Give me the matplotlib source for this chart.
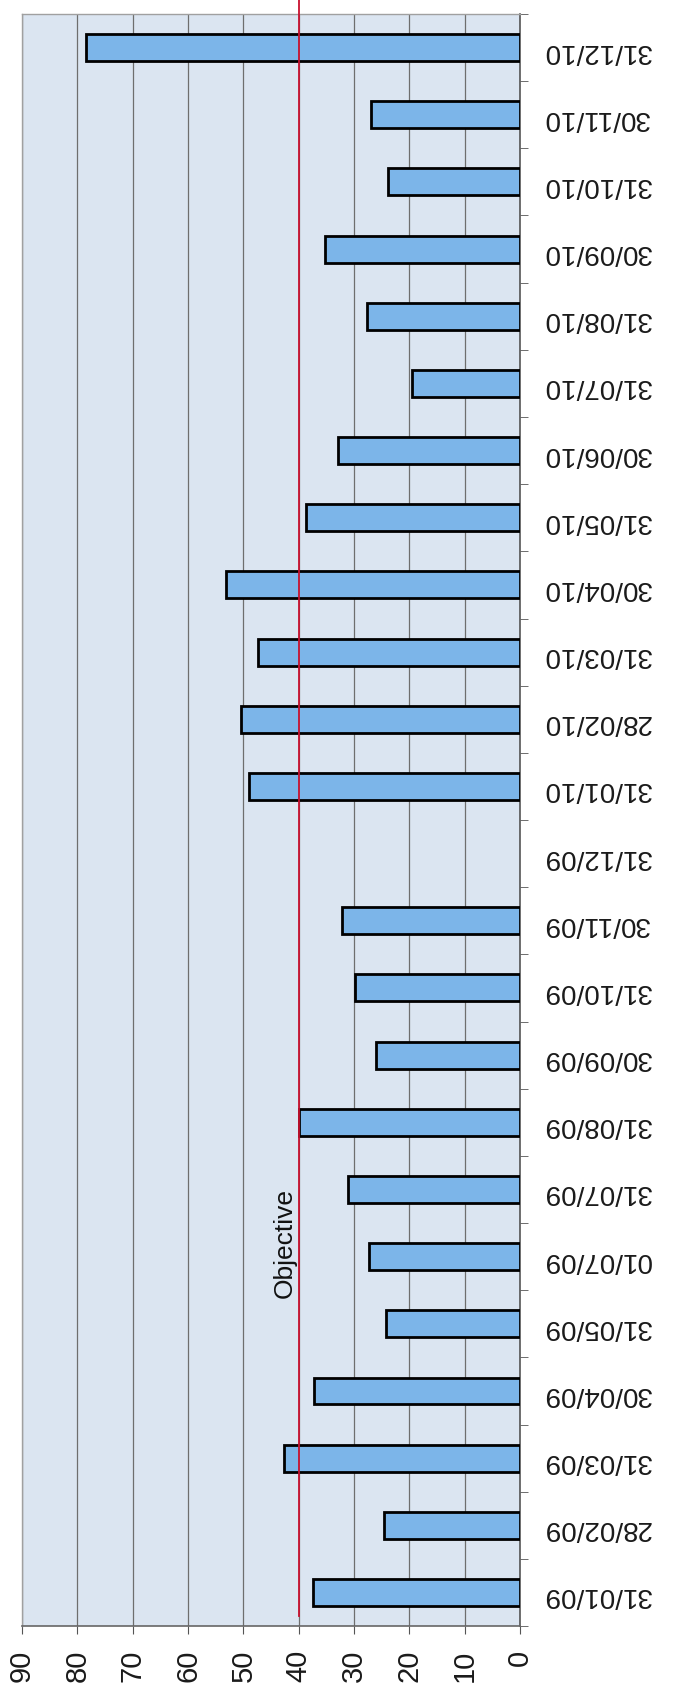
import numpy as np
import matplotlib
matplotlib.use("Agg")
import matplotlib.pyplot as plt
from matplotlib.ticker import MultipleLocator

plt.rcParams['font.family'] = ['Liberation Sans', 'DejaVu Sans']

# monthly values, first month at the bottom
dates = ["31/01/09", "28/02/09", "31/03/09", "30/04/09", "31/05/09", "01/07/09",
         "31/07/09", "31/08/09", "30/09/09", "31/10/09", "30/11/09", "31/12/09",
         "31/01/10", "28/02/10", "31/03/10", "30/04/10", "31/05/10", "30/06/10",
         "31/07/10", "31/08/10", "30/09/10", "31/10/10", "30/11/10", "31/12/10"]
values = [37.4, 24.6, 42.7, 37.2, 24.2, 27.3,
          31.0, 40.0, 26.1, 29.8, 32.2, 0.0,
          48.9, 50.5, 47.4, 53.2, 38.6, 32.9,
          19.5, 27.7, 35.3, 23.8, 26.9, 78.5]
objective = 40
value_ticks = [0, 10, 20, 30, 40, 50, 60, 70, 80, 90]

fig = plt.figure(figsize=(6.75, 16.85), dpi=100)
ax = fig.add_axes([0.0326, 0.035, 0.7378, 0.9567])
ax.set_facecolor("#dbe5f1")

pos = np.arange(len(dates))
# empty months get no outline
edge_w = [2.0 if v > 0 else 0 for v in values]
ax.barh(pos, values, height=0.4, color="#7cb5e9", edgecolor="black",
        linewidth=edge_w, zorder=3)

# objective line runs a bit past the top of the plot
ax.plot([objective, objective], [-0.35, 23.72], color="#c8102e",
        linewidth=1.3, zorder=4, clip_on=False)
ax.text(objective + 0.4, 5.2, "Objective", rotation=90, ha="right",
        va="center", fontsize=19, color="#111111", zorder=5)

ax.set_xlim(90, 0)
ax.set_ylim(-0.5, len(dates) - 0.5)
ax.set_xticks(value_ticks)
ax.set_xticklabels([str(v) for v in value_ticks], rotation=90, fontsize=21,
                   color="#1a1a1a")
ax.xaxis.grid(True, color="#6e6e6e", linewidth=0.9, zorder=1)
ax.set_axisbelow(True)

ax.yaxis.tick_right()
ax.set_yticks(pos)
ax.set_yticklabels(dates, rotation=180, fontsize=20, color="#1a1a1a")
ax.yaxis.set_minor_locator(MultipleLocator(1, offset=0.5))
ax.tick_params(axis="y", which="major", length=0, pad=16)
ax.tick_params(axis="y", which="minor", length=6, color="#555555", right=True, left=False)
ax.tick_params(axis="x", which="major", length=6, color="#555555", pad=11)

for side in ["left", "top"]:
    ax.spines[side].set_color("#a0a0a0")
    ax.spines[side].set_linewidth(1.0)
ax.spines["right"].set_color("#555555")
ax.spines["bottom"].set_color("#666666")
ax.spines["right"].set_linewidth(1.2)
ax.spines["bottom"].set_linewidth(1.2)

fig.savefig("out.png", dpi=100)
